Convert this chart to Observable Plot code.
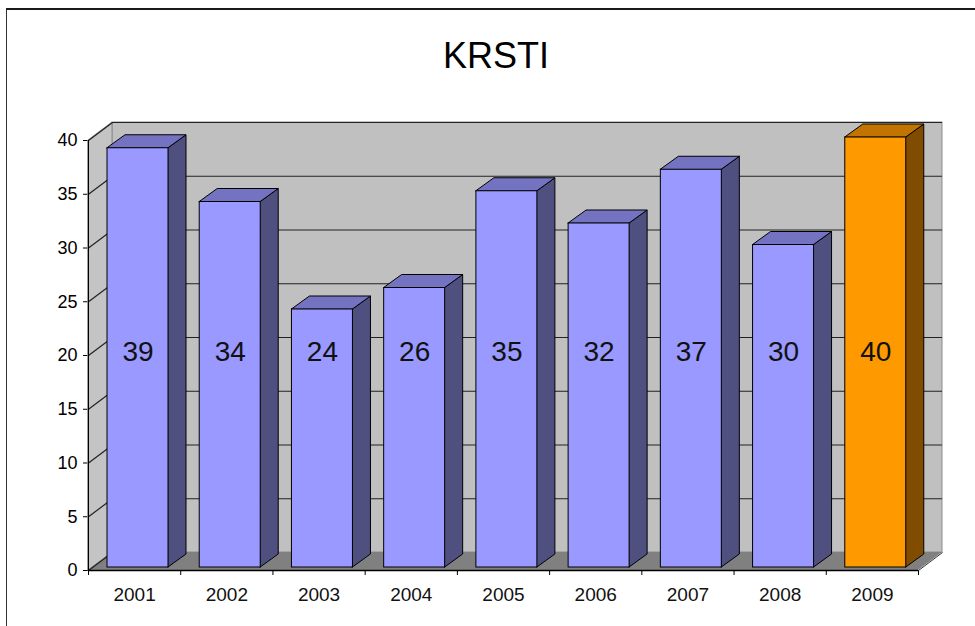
<!DOCTYPE html>
<html><head><meta charset="utf-8">
<script src="https://cdn.jsdelivr.net/npm/d3@7"></script>
<script src="https://cdn.jsdelivr.net/npm/@observablehq/plot@0.6"></script>
<style>
html,body{margin:0;padding:0;background:#fff;}
#wrap{position:relative;width:975px;height:626px;overflow:hidden;font-family:"Liberation Sans",Arial,sans-serif;}
#frame{position:absolute;left:6px;top:8px;width:1100px;height:800px;border-top:2px solid #1a1a1a;border-left:1px solid #333;}
#title{position:absolute;left:496px;top:38px;transform:translateX(-50%);font-size:36px;line-height:36px;color:#000;white-space:nowrap;}
#chart{position:absolute;left:0;top:0;}
</style></head><body>
<div id="wrap"><div id="chart"></div><div id="frame"></div><div id="title"></div></div>
<script>
const title = "KRSTI";
const categories = ["2001","2002","2003","2004","2005","2006","2007","2008","2009"];
const values = [39, 34, 24, 26, 35, 32, 37, 30, 40];
const yTicks = [0, 5, 10, 15, 20, 25, 30, 35, 40];
const highlightCategory = "2009";

document.getElementById("title").textContent = title;

const W = 975, H = 626, mL = 88, mR = 57, mT = 140, mB = 56;
const yMax = 40;
const n = categories.length;
const pxX = (W - mL - mR) / n;
const pxY = (H - mT - mB) / yMax;
const wall = {dx: 24 / pxX, dy: 18 / pxY};
const front = {dx: 4 / pxX, dy: 3 / pxY};
const depth = {dx: 18 / pxX, dy: 13 / pxY};
const barInset = 15 / pxX, barWidth = 61 / pxX;
const labelLevel = 20;

const palette = {
  normal: {front: "#9999ff", side: "#4f4f80", top: "#7373c2"},
  highlight: {front: "#ff9900", side: "#7f4c00", top: "#c27400"}
};

const bars = categories.map((cat, i) => {
  const p = cat === highlightCategory ? palette.highlight : palette.normal;
  const x1 = i + barInset + front.dx;
  return {cat, i, value: values[i], x1, x2: x1 + barWidth, y1: front.dy, y2: values[i] + front.dy, ...p};
});
const sides = bars.flatMap(b => [
  {cat: b.cat, x: b.x2, y1: b.y1, y2: b.y2, fill: b.side},
  {cat: b.cat, x: b.x2 + depth.dx, y1: b.y1 + depth.dy, y2: b.y2 + depth.dy, fill: b.side}
]);
const tops = bars.flatMap(b => [
  {cat: b.cat, y: b.y2, x1: b.x1, x2: b.x2, fill: b.top},
  {cat: b.cat, y: b.y2 + depth.dy, x1: b.x1 + depth.dx, x2: b.x2 + depth.dx, fill: b.top}
]);
const backWall = [{x1: wall.dx, x2: n + wall.dx, y1: wall.dy, y2: yMax + wall.dy}];
const leftWall = [{x: 0, y1: 0, y2: yMax}, {x: wall.dx, y1: wall.dy, y2: yMax + wall.dy}];
const floor = [{y: 0, x1: 0, x2: n}, {y: wall.dy, x1: wall.dx, x2: n + wall.dx}];

const chart = Plot.plot({
  width: W, height: H,
  marginLeft: mL, marginRight: mR, marginTop: mT, marginBottom: mB,
  style: {background: "transparent", fontFamily: "'Liberation Sans', Arial, sans-serif", fontSize: "18px", color: "#000"},
  x: {type: "linear", domain: [0, n], ticks: d3.range(n + 1), tickFormat: () => "", tickSize: 5, label: null},
  y: {type: "linear", domain: [0, yMax], ticks: yTicks, tickSize: 5, tickPadding: 6, label: null},
  marks: [
    Plot.rect(backWall, {x1: "x1", x2: "x2", y1: "y1", y2: "y2", fill: "#c0c0c0", stroke: "#8c8c8c"}),
    Plot.area(leftWall, {x1: "x", y1: "y1", y2: "y2", fill: "#c4c4c4", stroke: "#8c8c8c"}),
    Plot.area(floor, {y1: "y", x1: "x1", x2: "x2", fill: "#808080"}),
    Plot.ruleY(yTicks.filter(t => t > 0), {y: t => t + wall.dy, x1: () => wall.dx, x2: () => n + wall.dx, stroke: "#222", strokeWidth: 1.2}),
    Plot.link(yTicks, {x1: () => 0, y1: t => t, x2: () => wall.dx, y2: t => t + wall.dy, stroke: "#222", strokeWidth: 1.2}),
    Plot.link([0], {x1: () => n, y1: () => 0, x2: () => n + wall.dx, y2: () => wall.dy, stroke: "#333"}),
    Plot.area(sides, {x1: "x", y1: "y1", y2: "y2", z: "cat", fill: "fill", stroke: "#000", strokeWidth: 1}),
    Plot.area(tops, {y1: "y", x1: "x1", x2: "x2", z: "cat", fill: "fill", stroke: "#000", strokeWidth: 1}),
    Plot.rect(bars, {x1: "x1", x2: "x2", y1: "y1", y2: "y2", fill: "front", stroke: "#000", strokeWidth: 1}),
    Plot.ruleY([0], {x1: () => 0, x2: () => n, stroke: "#000", strokeWidth: 1.5}),
    Plot.ruleX([0], {y1: () => 0, y2: () => yMax, stroke: "#000", strokeWidth: 1}),
    Plot.text(bars, {x: d => d.i + 0.5, y: () => 0, dy: 24, text: "cat", fontSize: 19, fill: "#111"}),
    Plot.text(bars, {x: d => (d.x1 + d.x2) / 2, y: () => labelLevel + front.dy, text: d => String(d.value), fontSize: 28, fill: "#111"})
  ]
});
document.getElementById("chart").appendChild(chart);
</script>
</body></html>
